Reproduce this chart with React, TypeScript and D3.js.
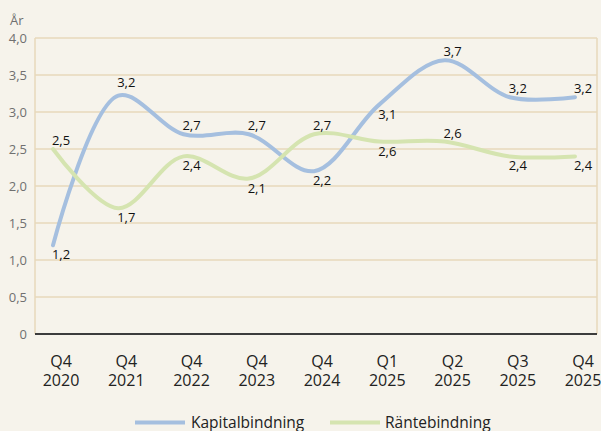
import React from "react";
import * as d3 from "d3";

const categories = ["Q4\n2020", "Q4\n2021", "Q4\n2022", "Q4\n2023", "Q4\n2024", "Q1\n2025", "Q2\n2025", "Q3\n2025", "Q4\n2025"];
const kapital = [1.2, 3.22, 2.7, 2.7, 2.2, 3.1, 3.7, 3.2, 3.2];
const ranta = [2.5, 1.7, 2.4, 2.1, 2.7, 2.6, 2.6, 2.4, 2.4];
const kapitalLabelPos = ["below", "peak", "above", "above", "below", "below", "above", "above", "above"];
const rantaLabelPos = ["above", "below", "below", "below", "above", "below", "above", "below", "below"];
const yTicks = [0, 0.5, 1, 1.5, 2, 2.5, 3, 3.5, 4];
const seriesNames = ["Kapitalbindning", "Räntebindning"];

const W = 601;
const H = 431;
const BG = "#f6f3eb";
const GRID = "#e7d8bb";
const C_KAP = "#a5bfdf";
const C_RAN = "#d5e4b0";
const FONT = "'Open Sans', 'Noto Sans', sans-serif";

const fmt = (v: number) => (v === 0 ? "0" : d3.format(".1f")(v).replace(".", ","));
const labelOffset: Record<string, number> = { above: -4, peak: -9, below: 14 };

export default function App() {
  const x = d3.scalePoint<string>().domain(categories).range([53, 575]);
  const y = d3.scaleLinear().domain([0, 4]).range([334, 38]);
  const line = d3
    .line<number>()
    .x((_, i) => x(categories[i]) as number)
    .y((d) => y(d))
    .curve(d3.curveCatmullRom.alpha(0.5));

  const series = [
    { name: seriesNames[0], values: kapital, pos: kapitalLabelPos, color: C_KAP },
    { name: seriesNames[1], values: ranta, pos: rantaLabelPos, color: C_RAN },
  ];

  return (
    <svg
      width={W}
      height={H}
      style={{ position: "absolute", left: 0, top: 0, background: BG }}
      fontFamily={FONT}
    >
      <rect x={0} y={0} width={W} height={H} fill={BG} />
      {yTicks.map((t) => (
        <g key={t}>
          {t > 0 && <line x1={35} x2={597} y1={y(t)} y2={y(t)} stroke={GRID} strokeWidth={1.5} />}
          <text x={27} y={y(t) + 4.5} textAnchor="end" fontSize={13} fill="#707070">
            {fmt(t)}
          </text>
        </g>
      ))}
      <line x1={35} x2={35} y1={y(4)} y2={y(0)} stroke={GRID} strokeWidth={1.5} />
      <line x1={597} x2={597} y1={y(4)} y2={y(0)} stroke={GRID} strokeWidth={1.5} />
      <line x1={35} x2={597} y1={y(0)} y2={y(0)} stroke="#3c3c3c" strokeWidth={2} />
      <text x={10} y={25} fontSize={13} fill="#707070">
        År
      </text>

      {categories.map((c) => {
        const [a, b] = c.split("\n");
        const cx = (x(c) as number) + 8;
        return (
          <g key={c}>
            <text x={cx} y={366.5} textAnchor="middle" fontSize={16} fill="#222">{a}</text>
            <text x={cx} y={386} textAnchor="middle" fontSize={16} fill="#222">{b}</text>
          </g>
        );
      })}

      {series.map((s) => (
        <path
          key={s.name}
          d={line(s.values) || ""}
          fill="none"
          stroke={s.color}
          strokeWidth={4}
          strokeLinecap="round"
        />
      ))}

      {series.map((s) =>
        s.values.map((v, i) => (
          <text
            key={s.name + i}
            x={(x(categories[i]) as number) + 8}
            y={y(v) + labelOffset[s.pos[i]]}
            textAnchor="middle"
            fontSize={13}
            fill="#111"
          >
            {fmt(v)}
          </text>
        ))
      )}

      <g>
        <line x1={135} x2={185} y1={422.5} y2={422.5} stroke={C_KAP} strokeWidth={4} />
        <text x={191} y={428} fontSize={15.5} fill="#222">
          {seriesNames[0]}
        </text>
        <line x1={330} x2={380} y1={422.5} y2={422.5} stroke={C_RAN} strokeWidth={4} />
        <text x={385} y={428} fontSize={15.5} fill="#222">
          {seriesNames[1]}
        </text>
      </g>
    </svg>
  );
}
